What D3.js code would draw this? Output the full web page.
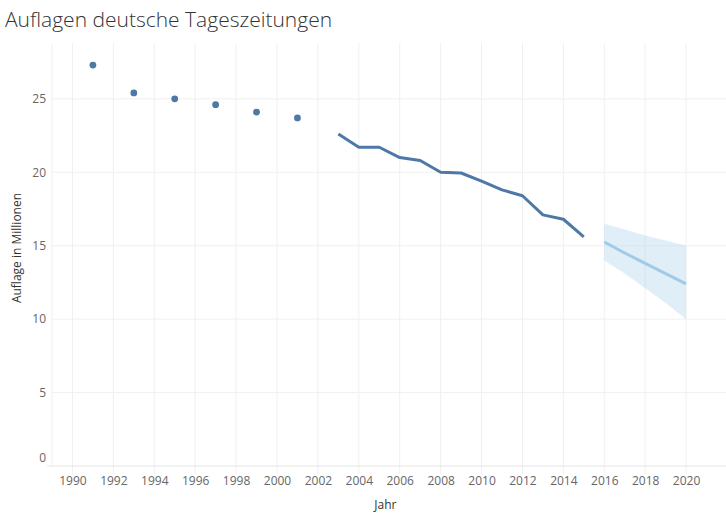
<!DOCTYPE html>
<html>
<head>
<meta charset="utf-8">
<script src="https://cdn.jsdelivr.net/npm/d3@7"></script>
<style>
  body { margin: 0; background: #fff; }
  text { font-family: "Open Sans", "Lato", sans-serif; }
</style>
</head>
<body>
<div id="chart"></div>
<script>
// Auflagen (Millionen) - Punkte fuer die ungeraden Jahre, Linie ab 2003, Prognose ab 2016
var dotYears = [1991, 1993, 1995, 1997, 1999, 2001];
var dotValues = [27.3, 25.4, 25.0, 24.6, 24.1, 23.7];

var lineYears = [2003, 2004, 2005, 2006, 2007, 2008, 2009, 2010, 2011, 2012, 2013, 2014, 2015];
var lineValues = [22.6, 21.7, 21.7, 21.0, 20.8, 20.0, 19.95, 19.4, 18.8, 18.4, 17.1, 16.8, 15.6];

var forecastYears = [2016, 2017, 2018, 2019, 2020];
var forecastValues = [15.25, 14.5, 13.8, 13.1, 12.4];
var forecastUpper = [16.5, 16.1, 15.7, 15.35, 15.0];
var forecastLower = [14.0, 13.1, 12.1, 11.1, 10.0];

var xTicks = d3.range(1990, 2021, 2);
var yTicks = [0, 5, 10, 15, 20, 25];

var config = {
  width: 726,
  height: 520,
  left: 52,
  right: 727,
  top: 43,
  bottom: 466
};

var svg = d3.select('#chart').append('svg')
    .attr('width', config.width)
    .attr('height', config.height);

var x = d3.scaleLinear().domain([1989, 2022]).range([config.left, config.right]);
var y = d3.scaleLinear().domain([0, 28.8]).range([config.bottom, config.top]);

// title
svg.append('text')
    .attr('x', 5)
    .attr('y', 27)
    .attr('font-size', 21)
    .attr('font-weight', 300)
    .attr('fill', '#333')
    .text('Auflagen deutsche Tageszeitungen');

// grid
svg.append('g').selectAll('line').data(xTicks).enter()
  .append('line')
    .attr('x1', function(d) { return x(d); })
    .attr('x2', function(d) { return x(d); })
    .attr('y1', config.top)
    .attr('y2', config.bottom + 8)
    .attr('stroke', '#f0f0f0')
    .attr('stroke-width', 1);

svg.append('line')
    .attr('x1', config.left).attr('x2', config.left)
    .attr('y1', config.top).attr('y2', config.bottom)
    .attr('stroke', '#f0f0f0');

svg.append('g').selectAll('line').data(yTicks.filter(function(d) { return d > 0; })).enter()
  .append('line')
    .attr('x1', config.left)
    .attr('x2', config.width)
    .attr('y1', function(d) { return y(d); })
    .attr('y2', function(d) { return y(d); })
    .attr('stroke', '#f0f0f0');

svg.append('line')
    .attr('x1', 47).attr('x2', config.width)
    .attr('y1', y(0)).attr('y2', y(0))
    .attr('stroke', '#e6e6e6');

// axes labels
var yAxis = svg.append('g')
    .attr('transform', 'translate(' + (config.left - 6) + ',0)')
    .call(d3.axisLeft(y).tickValues(yTicks).tickSize(0).tickPadding(0));
yAxis.select('.domain').remove();
yAxis.selectAll('text')
    .attr('font-size', 12)
    .attr('fill', '#666')
    .attr('dy', function(d) { return d === 0 ? '-0.4em' : '0.32em'; });

var xAxis = svg.append('g')
    .attr('transform', 'translate(0,' + (config.bottom + 10) + ')')
    .call(d3.axisBottom(x).tickValues(xTicks).tickFormat(d3.format('d')).tickSize(0).tickPadding(0));
xAxis.select('.domain').remove();
xAxis.selectAll('text')
    .attr('font-size', 12)
    .attr('fill', '#666');

svg.append('text')
    .attr('x', x(2005.3))
    .attr('y', 509)
    .attr('text-anchor', 'middle')
    .attr('font-size', 12)
    .attr('fill', '#333')
    .text('Jahr');

svg.append('text')
    .attr('transform', 'translate(21,' + 248 + ') rotate(-90)')
    .attr('text-anchor', 'middle')
    .attr('font-size', 12)
    .attr('fill', '#333')
    .text('Auflage in Millionen');

// forecast band
var band = forecastYears.map(function(d, i) {
  return { year: d, lo: forecastLower[i], hi: forecastUpper[i], v: forecastValues[i] };
});

svg.append('path')
    .datum(band)
    .attr('fill', '#a0cbe8')
    .attr('fill-opacity', 0.32)
    .attr('d', d3.area()
        .x(function(d) { return x(d.year); })
        .y0(function(d) { return y(d.lo); })
        .y1(function(d) { return y(d.hi); }));

svg.append('path')
    .datum(band)
    .attr('fill', 'none')
    .attr('stroke', '#a0cbe8')
    .attr('stroke-width', 3)
    .attr('d', d3.line()
        .x(function(d) { return x(d.year); })
        .y(function(d) { return y(d.v); }));

// actual line
var lineData = lineYears.map(function(d, i) { return [d, lineValues[i]]; });
svg.append('path')
    .datum(lineData)
    .attr('fill', 'none')
    .attr('stroke', '#4e79a7')
    .attr('stroke-width', 3)
    .attr('stroke-linejoin', 'round')
    .attr('d', d3.line()
        .x(function(d) { return x(d[0]); })
        .y(function(d) { return y(d[1]); }));

// dots
svg.append('g').selectAll('circle').data(dotYears).enter()
  .append('circle')
    .attr('cx', function(d) { return x(d); })
    .attr('cy', function(d, i) { return y(dotValues[i]); })
    .attr('r', 3.4)
    .attr('fill', '#4e79a7');
</script>
</body>
</html>
